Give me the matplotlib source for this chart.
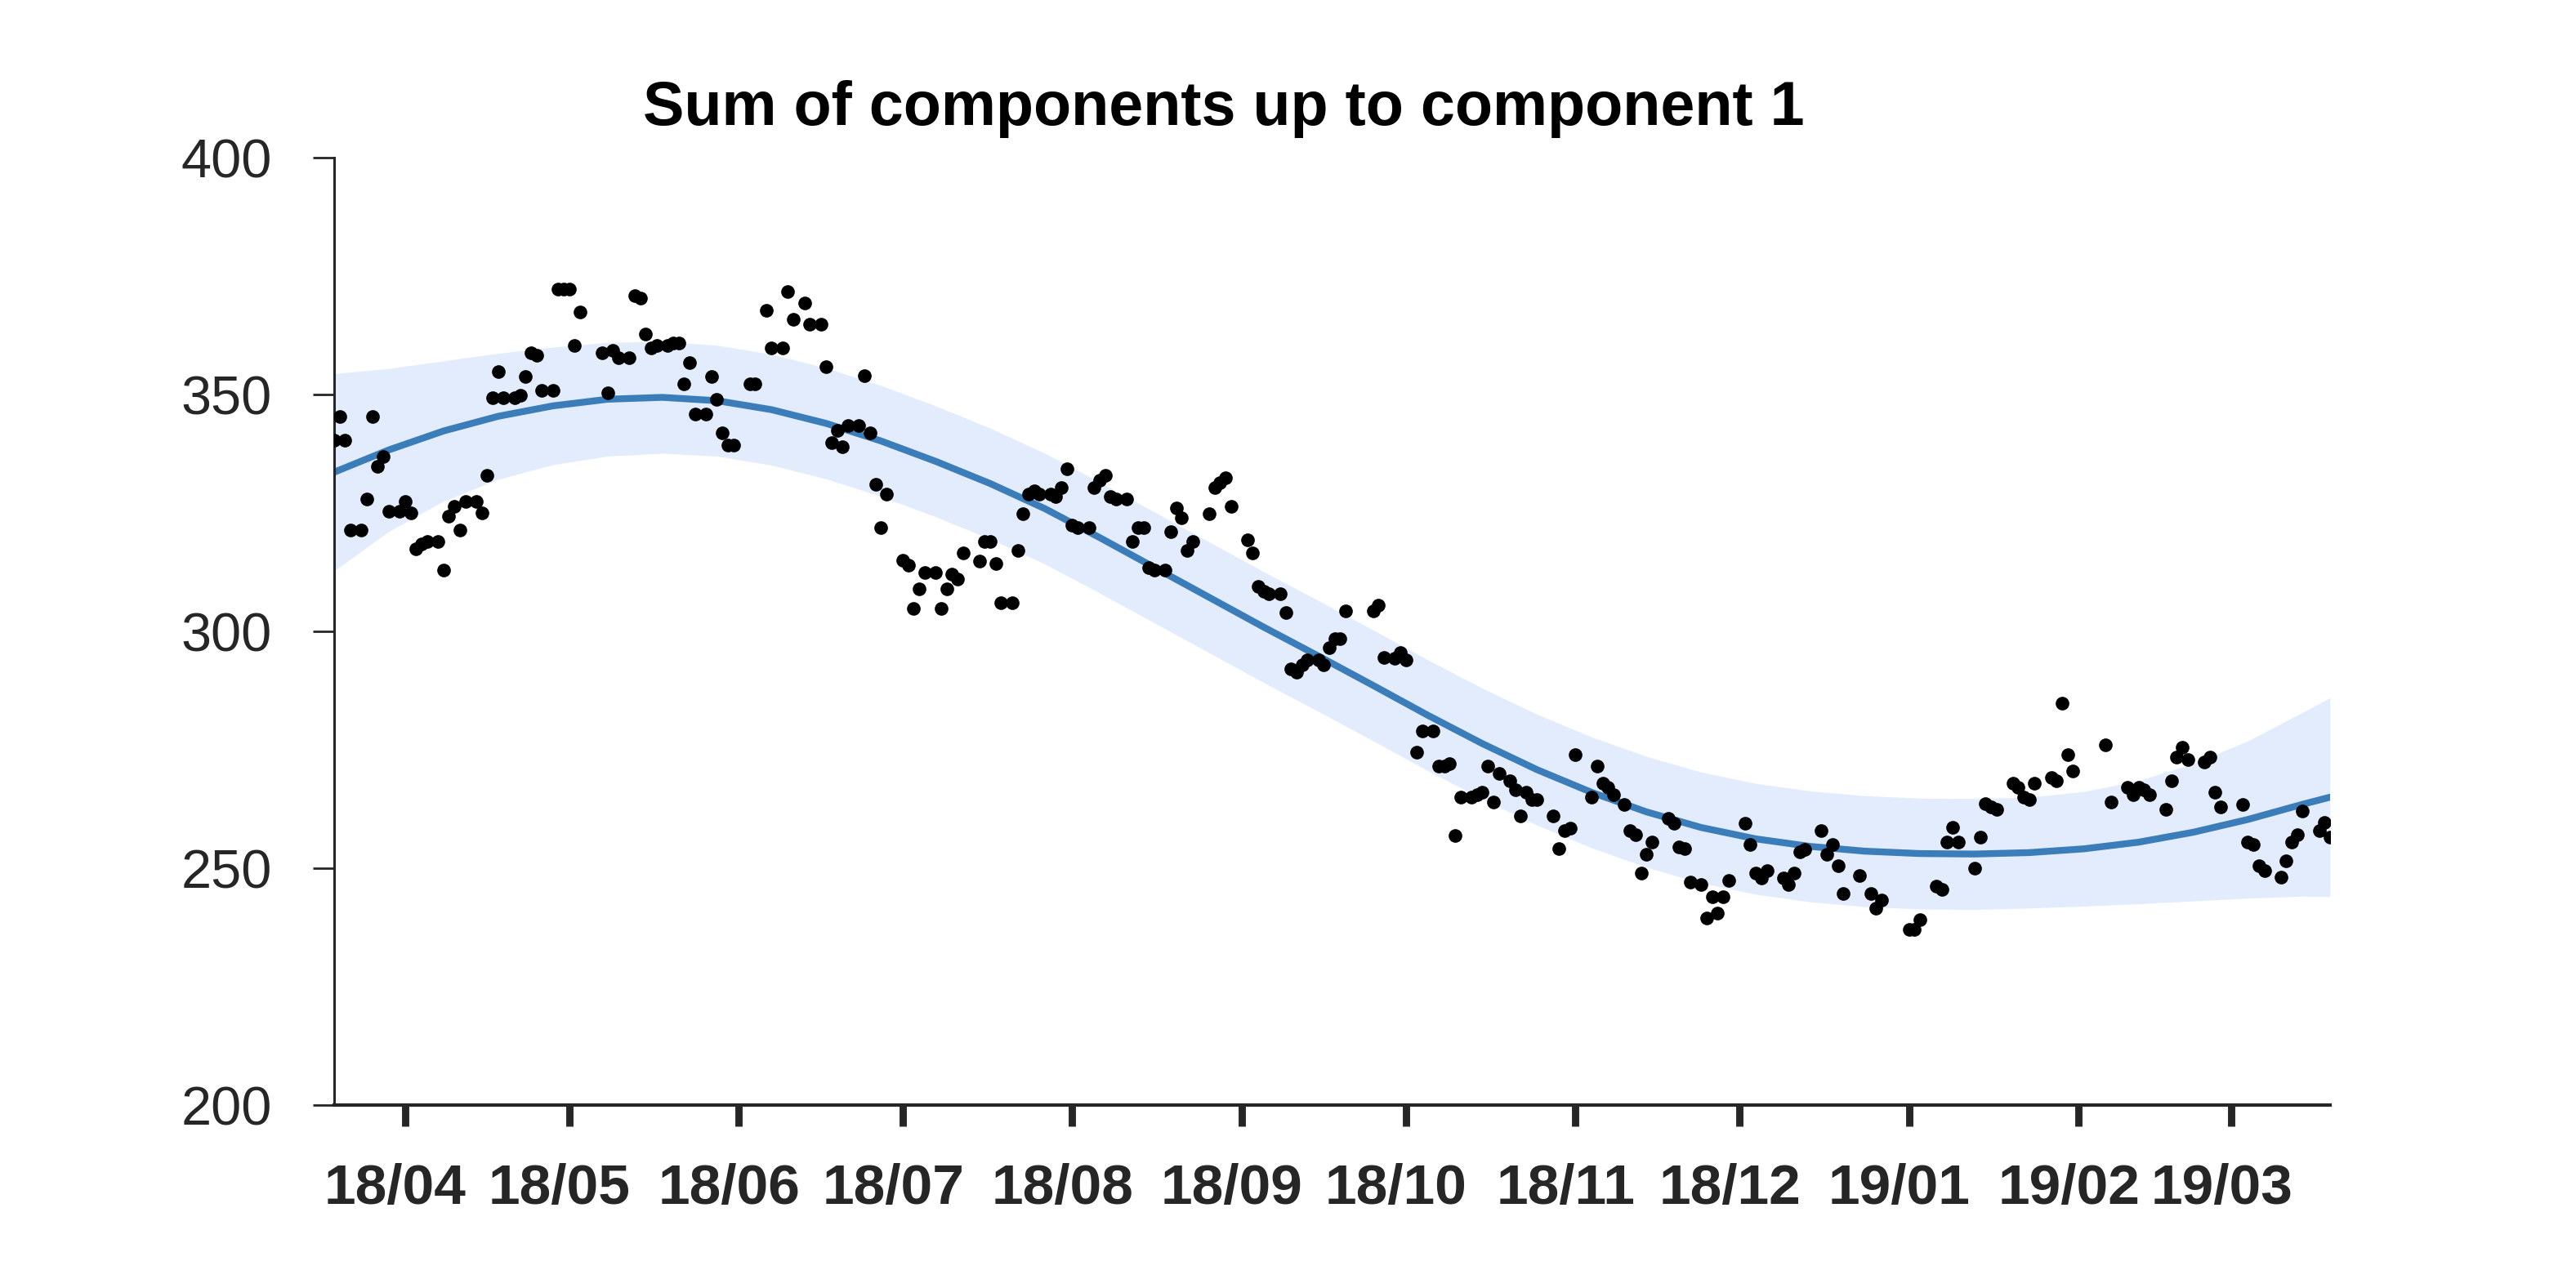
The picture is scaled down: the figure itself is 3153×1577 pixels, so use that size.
import numpy as np
import matplotlib
matplotlib.use("Agg")
import matplotlib.pyplot as plt
import matplotlib.dates as mdates
from matplotlib.transforms import ScaledTranslation

plt.rcParams['font.family'] = ['Liberation Sans', 'DejaVu Sans']

# ---- data -------------------------------------------------------------
start_date = np.datetime64('2018-03-19')
end_date = np.datetime64('2019-03-19')

# observations: day offset from start_date and value
obs_day = [0, 1, 2, 3, 5, 6, 7, 8, 9, 10, 12, 13, 14, 15, 16, 17, 19, 20, 21, 22,
           23, 24, 26, 27, 28, 29, 30, 31, 33, 34, 35, 36, 37, 38, 40, 41, 42, 43, 44, 45,
           49, 50, 51, 52, 54, 55, 56, 57, 58, 59, 61, 62, 63, 64, 65, 66, 68, 69, 70, 71,
           72, 73, 76, 77, 79, 80, 82, 83, 84, 86, 87, 89, 90, 91, 92, 93, 94, 96, 97, 98,
           99, 100, 101, 104, 105, 106, 107, 108, 110, 111, 112, 113, 114, 115, 118, 119, 120, 121, 122, 124,
           125, 126, 127, 128, 129, 131, 132, 133, 134, 135, 136, 138, 139, 140, 141, 142, 143, 145, 146, 147,
           148, 149, 150, 152, 153, 154, 155, 156, 157, 160, 161, 162, 163, 164, 167, 168, 169, 170, 171, 173,
           174, 175, 176, 177, 178, 180, 181, 182, 183, 184, 185, 190, 191, 192, 194, 195, 196, 198, 199, 201,
           202, 203, 204, 205, 206, 208, 209, 210, 211, 212, 213, 215, 216, 217, 218, 219, 220, 223, 224, 225,
           226, 227, 230, 231, 232, 233, 234, 236, 237, 238, 239, 240, 241, 244, 245, 246, 247, 248, 250, 251,
           252, 253, 254, 255, 258, 259, 260, 261, 262, 265, 266, 267, 268, 269, 272, 273, 274, 275, 276, 279,
           281, 282, 283, 288, 289, 290, 293, 294, 295, 296, 297, 300, 301, 302, 303, 304, 307, 308, 309, 310,
           311, 314, 315, 316, 317, 318, 324, 325, 328, 329, 330, 331, 332, 335, 336, 337, 338, 339, 342, 343,
           344, 345, 349, 350, 351, 352, 353, 356, 357, 358, 359, 360, 363, 364, 365]
obs_value = [340.4, 345.4, 340.4, 321.4, 321.4, 327.9, 345.4, 334.9, 336.9, 325.4, 325.4, 327.4, 325.0, 317.5, 318.5, 319.0, 319.0, 312.9, 324.4, 326.4,
             321.4, 327.4, 327.4, 325.0, 332.9, 349.3, 354.8, 349.3, 349.3, 349.8, 353.8, 358.8, 358.3, 350.9, 350.9, 372.3, 372.3, 372.3, 360.3, 367.4,
             358.8, 350.3, 359.3, 357.8, 357.8, 370.9, 370.3, 362.8, 359.8, 360.3, 360.3, 360.8, 360.8, 352.3, 356.8, 345.9, 345.9, 353.8, 348.9, 341.9,
             339.4, 339.4, 352.3, 352.3, 367.8, 359.8, 359.8, 371.8, 365.8, 369.3, 364.9, 364.9, 355.9, 339.9, 342.5, 339.0, 343.4, 343.4, 353.9, 341.9,
             331.0, 321.9, 328.9, 315.0, 314.0, 304.9, 308.9, 312.4, 312.4, 304.9, 308.9, 312.0, 311.0, 316.5, 314.9, 319.0, 319.0, 314.4, 306.0, 306.0,
             317.0, 324.9, 328.9, 329.6, 328.9, 328.9, 328.4, 330.4, 334.4, 322.4, 321.9, 321.9, 330.4, 331.9, 333.0, 328.4, 327.9, 327.9, 319.0, 321.9,
             321.9, 313.5, 313.0, 313.0, 321.0, 326.0, 323.9, 317.0, 319.0, 324.9, 330.4, 331.4, 332.4, 326.4, 319.4, 316.5, 309.5, 308.5, 307.9, 307.9,
             304.0, 292.0, 291.4, 293.0, 294.0, 294.0, 293.0, 296.5, 298.5, 298.5, 304.4, 304.4, 305.5, 294.5, 294.4, 295.6, 293.9, 274.5, 278.9, 278.9,
             271.5, 271.5, 272.0, 256.9, 265.0, 265.0, 265.5, 266.0, 271.5, 264.0, 270.0, 268.5, 266.5, 261.0, 266.0, 264.5, 264.5, 261.0, 254.1, 258.0,
             258.5, 274.0, 265.0, 271.5, 268.0, 267.0, 265.5, 263.5, 258.0, 257.0, 249.0, 253.0, 255.5, 260.5, 259.5, 254.5, 254.1, 247.0, 246.5, 239.5,
             244.0, 240.5, 244.0, 247.5, 259.5, 255.0, 249.0, 248.0, 249.5, 248.0, 246.5, 249.0, 253.5, 254.0, 258.0, 253.0, 255.0, 250.5, 244.6, 248.5,
             244.6, 241.5, 243.2, 237.1, 237.1, 239.1, 246.2, 245.6, 255.6, 258.6, 255.6, 250.0, 256.5, 263.6, 263.0, 262.5, 268.0, 267.1, 265.0, 264.5,
             268.0, 269.1, 268.5, 284.9, 274.0, 270.5, 276.0, 264.0, 267.1, 265.5, 267.1, 266.5, 265.5, 262.5, 268.5, 273.5, 275.5, 273.0, 272.5, 273.5,
             266.0, 263.0, 263.5, 255.6, 255.0, 250.6, 249.5, 248.1, 251.5, 255.6, 257.1, 262.0, 258.0, 259.6, 256.5]

# fitted component sum and its uncertainty band (day offset, value)
fit_day = [0, 10, 20, 30, 40, 50, 60, 70, 80, 90, 100, 110, 120, 130, 140, 150, 160, 170, 180,
           190, 200, 210, 220, 230, 240, 250, 260, 270, 280, 290, 300, 310, 320, 330, 340, 350, 360, 365]
fit_value = [333.6, 338.3, 342.3, 345.4, 347.6, 349.0, 349.4, 348.7, 346.8, 343.9, 340.2, 335.9, 331.2, 325.9, 319.8, 313.5, 307.2, 300.9, 294.8,
             288.6, 282.3, 276.3, 270.8, 266.0, 261.9, 258.6, 256.2, 254.6, 253.6, 253.1, 253.0, 253.3, 254.1, 255.5, 257.6, 260.3, 263.5, 265.0]
band_upper = [354.4, 355.5, 357.1, 358.7, 360.0, 361.0, 361.2, 360.4, 358.5, 355.6, 351.9, 347.6, 342.9, 337.6, 331.5, 325.2, 318.9, 312.6, 306.5,
              300.3, 294.0, 288.0, 282.5, 277.7, 273.6, 270.3, 267.9, 266.3, 265.3, 264.8, 264.7, 265.0, 266.2, 268.5, 272.1, 276.9, 282.9, 286.0]
band_lower = [312.8, 321.1, 327.5, 332.1, 335.2, 337.0, 337.6, 337.0, 335.1, 332.2, 328.5, 324.2, 319.5, 314.2, 308.1, 301.8, 295.5, 289.2, 283.1,
              276.9, 270.6, 264.6, 259.1, 254.3, 250.2, 246.9, 244.5, 242.9, 241.9, 241.4, 241.3, 241.6, 242.0, 242.5, 243.1, 243.7, 244.1, 244.0]

y_ticks = [200, 250, 300, 350, 400]
title = "Sum of components up to component 1"

# ---- plot -------------------------------------------------------------
obs_dates = start_date + np.array(obs_day).astype('timedelta64[D]')
fit_dates = start_date + np.array(fit_day).astype('timedelta64[D]')

fig = plt.figure(figsize=(15.765, 7.885), dpi=200)
ax = fig.add_axes([0.1297, 0.142, 0.7748, 0.7356])

ax.fill_between(fit_dates, band_lower, band_upper, color='#e3ecfd', linewidth=0, zorder=1)
ax.plot(fit_dates, fit_value, color='#3a7db9', linewidth=3.0, zorder=2,
        solid_capstyle='round', solid_joinstyle='round')
ax.plot(obs_dates, obs_value, linestyle='none', marker='o', markersize=6.0,
        color='black', markeredgewidth=0, zorder=3)

ax.set_xlim(start_date, end_date)
ax.set_ylim(200, 400)
ax.set_yticks(y_ticks)

ax.xaxis.set_major_locator(mdates.MonthLocator())
ax.xaxis.set_major_formatter(mdates.DateFormatter('%y/%m'))

for s in ('top', 'right'):
    ax.spines[s].set_visible(False)
ax.spines['left'].set_linewidth(1.1)
ax.spines['bottom'].set_linewidth(1.5)
ax.spines['left'].set_color('#262626')
ax.spines['bottom'].set_color('#262626')

ax.tick_params(axis='x', direction='out', length=9.4, width=3.2, pad=16,
               colors='#262626', labelsize=25)
ax.tick_params(axis='y', direction='out', length=9.4, width=1.0, pad=18,
               colors='#262626', labelsize=24)

# labels sit slightly left of their ticks in the original
shift = ScaledTranslation(-4.3 / 72, 0, fig.dpi_scale_trans)
for tick in ax.xaxis.get_major_ticks():
    tick.label1.set_fontweight('bold')
    tick.label1.set_transform(tick.label1.get_transform() + shift)

fig.text(0.475, 0.903, title, ha='center', va='baseline',
         fontsize=27.2, fontweight='bold', color='black')

fig.savefig('out.png', dpi=200, facecolor='white')
